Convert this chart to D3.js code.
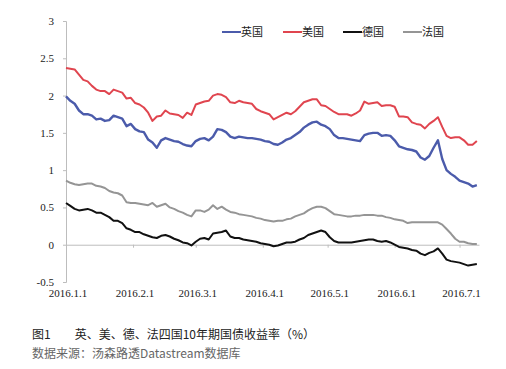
<!DOCTYPE html>
<html>
<head>
<meta charset="utf-8">
<script src="https://cdn.jsdelivr.net/npm/d3@7"></script>
<style>
  html, body { margin: 0; padding: 0; background: #fff; }
  svg { display: block; }
</style>
</head>
<body>
<svg id="chart" width="506" height="369"></svg>
<script>
// ---- data ----
const dates = [
  "2016-01-01","2016-01-03","2016-01-05","2016-01-07","2016-01-09","2016-01-11","2016-01-13","2016-01-15",
  "2016-01-17","2016-01-19","2016-01-21","2016-01-23","2016-01-25","2016-01-27","2016-01-29","2016-01-31",
  "2016-02-02","2016-02-04","2016-02-06","2016-02-08","2016-02-10","2016-02-12","2016-02-14","2016-02-16",
  "2016-02-18","2016-02-20","2016-02-22","2016-02-24","2016-02-26","2016-02-28",
  "2016-03-01","2016-03-03","2016-03-05","2016-03-07","2016-03-09","2016-03-11","2016-03-13","2016-03-15",
  "2016-03-17","2016-03-19","2016-03-21","2016-03-23","2016-03-25","2016-03-27","2016-03-29","2016-03-31",
  "2016-04-02","2016-04-04","2016-04-06","2016-04-08","2016-04-10","2016-04-12","2016-04-14","2016-04-16",
  "2016-04-18","2016-04-20","2016-04-22","2016-04-24","2016-04-26","2016-04-28","2016-04-30",
  "2016-05-02","2016-05-04","2016-05-06","2016-05-08","2016-05-10","2016-05-12","2016-05-14","2016-05-16",
  "2016-05-18","2016-05-20","2016-05-22","2016-05-24","2016-05-26","2016-05-28","2016-05-30",
  "2016-06-01","2016-06-03","2016-06-05","2016-06-07","2016-06-09","2016-06-11","2016-06-13","2016-06-15",
  "2016-06-17","2016-06-19","2016-06-21","2016-06-23","2016-06-25","2016-06-27","2016-06-29",
  "2016-07-01","2016-07-03","2016-07-05","2016-07-07","2016-07-09"
];

const ukValues = [
  1.99,1.93,1.89,1.80,1.75,1.75,1.73,1.68,1.69,1.66,1.67,1.73,1.71,1.69,1.59,1.62,
  1.55,1.52,1.51,1.41,1.37,1.30,1.40,1.43,1.41,1.39,1.38,1.35,1.33,1.32,
  1.39,1.42,1.43,1.40,1.45,1.55,1.54,1.51,1.45,1.43,1.45,1.44,1.43,1.43,1.42,1.41,
  1.39,1.38,1.35,1.34,1.37,1.41,1.43,1.47,1.51,1.57,1.61,1.64,1.65,1.61,1.59,
  1.55,1.47,1.43,1.43,1.42,1.41,1.40,1.39,1.47,1.49,1.50,1.50,1.46,1.47,1.46,
  1.40,1.32,1.30,1.28,1.27,1.25,1.17,1.14,1.19,1.30,1.40,1.15,1.00,0.95,0.91,
  0.86,0.84,0.82,0.78,0.80
];

const usValues = [
  2.37,2.36,2.35,2.28,2.21,2.19,2.13,2.08,2.06,2.06,2.02,2.08,2.06,2.04,1.96,1.97,
  1.90,1.88,1.84,1.77,1.66,1.72,1.73,1.80,1.76,1.75,1.74,1.70,1.77,1.74,
  1.88,1.90,1.92,1.93,2.00,2.02,2.01,1.98,1.91,1.90,1.93,1.91,1.90,1.89,1.82,1.79,
  1.77,1.75,1.68,1.71,1.74,1.77,1.75,1.79,1.85,1.91,1.93,1.95,1.95,1.87,1.86,
  1.82,1.78,1.75,1.75,1.75,1.73,1.76,1.80,1.92,1.89,1.90,1.91,1.86,1.87,1.87,
  1.85,1.72,1.72,1.71,1.64,1.62,1.61,1.56,1.62,1.66,1.71,1.58,1.46,1.43,1.44,
  1.44,1.40,1.34,1.34,1.39
];

const deValues = [
  0.56,0.52,0.48,0.46,0.47,0.48,0.46,0.43,0.43,0.40,0.37,0.32,0.32,0.29,0.22,0.20,
  0.17,0.17,0.14,0.12,0.10,0.09,0.12,0.13,0.11,0.08,0.06,0.03,0.02,-0.01,
  0.04,0.08,0.09,0.07,0.15,0.16,0.17,0.19,0.11,0.09,0.09,0.07,0.06,0.05,0.04,0.02,
  0.01,0.00,-0.02,-0.01,0.01,0.03,0.03,0.04,0.07,0.09,0.13,0.15,0.17,0.19,0.17,
  0.10,0.05,0.03,0.03,0.03,0.03,0.04,0.05,0.06,0.07,0.07,0.05,0.04,0.05,0.03,
  0.00,-0.03,-0.04,-0.05,-0.07,-0.08,-0.12,-0.14,-0.11,-0.09,-0.05,-0.12,-0.20,-0.22,-0.23,
  -0.24,-0.26,-0.28,-0.27,-0.26
];

const frValues = [
  0.86,0.83,0.81,0.80,0.81,0.82,0.82,0.79,0.78,0.76,0.72,0.70,0.69,0.66,0.57,0.56,
  0.56,0.55,0.54,0.53,0.56,0.51,0.53,0.55,0.50,0.48,0.45,0.43,0.40,0.38,
  0.46,0.46,0.44,0.47,0.53,0.48,0.51,0.47,0.44,0.43,0.41,0.40,0.39,0.38,0.36,0.35,
  0.33,0.32,0.31,0.32,0.32,0.34,0.35,0.38,0.40,0.42,0.46,0.49,0.51,0.51,0.49,
  0.45,0.41,0.40,0.39,0.38,0.38,0.39,0.39,0.40,0.40,0.40,0.39,0.39,0.37,0.36,
  0.34,0.33,0.32,0.29,0.30,0.30,0.30,0.30,0.30,0.30,0.30,0.27,0.21,0.15,0.08,
  0.04,0.04,0.02,0.01,0.01
];

const seriesNames = ["英国", "美国", "德国", "法国"];
const seriesColors = ["#4b5bab", "#e0454f", "#111111", "#959595"];
const yTicks = [-0.5, 0, 0.5, 1, 1.5, 2, 2.5, 3];
const xTickDates = ["2016-01-01","2016-02-01","2016-03-01","2016-04-01","2016-05-01","2016-06-01","2016-07-01"];
const caption = "图1　　英、美、德、法四国10年期国债收益率（%）";
const sourceNote = "数据来源：汤森路透Datastream数据库";

// ---- drawing ----
const svg = d3.select("#chart");
const parse = d3.timeParse("%Y-%m-%d");
const dateObjs = dates.map(parse);
const allSeries = [ukValues, usValues, deValues, frValues];

const x = d3.scaleTime()
  .domain([parse("2016-01-01"), parse("2016-07-10")])
  .range([66, 479]);
const y = d3.scaleLinear().domain([-0.5, 3]).range([282, 21]);

const serifFont = "'Liberation Serif', 'DejaVu Serif', serif";
const cjkFont = "'Noto Sans CJK SC', 'Noto Sans', sans-serif";

// y axis
const yAxis = d3.axisLeft(y).tickValues(yTicks).tickSize(3).tickPadding(9)
  .tickFormat(d => d === 0 ? "0" : String(d));
const gy = svg.append("g").attr("transform", "translate(66,0)").call(yAxis);
gy.select(".domain").attr("stroke", "#bdbdbd");
gy.selectAll(".tick line").attr("stroke", "#bdbdbd");
gy.selectAll(".tick text").attr("font-family", serifFont).attr("font-size", 11).attr("fill", "#222");

// zero line with tick marks
const xTickObjs = xTickDates.map(parse);
const gx = svg.append("g").attr("transform", `translate(0,${y(0)})`)
  .call(d3.axisBottom(x).tickValues(xTickObjs).tickSize(3).tickFormat("").tickSizeOuter(0));
gx.select(".domain").attr("stroke", "#bdbdbd");
gx.selectAll(".tick line").attr("stroke", "#bdbdbd");

// x labels (low position)
const fmt = d => `${d.getFullYear()}.${d.getMonth() + 1}.${d.getDate()}`;
const gxl = svg.append("g").attr("transform", "translate(1.5,285)")
  .call(d3.axisBottom(x).tickValues(xTickObjs).tickSize(0).tickPadding(4).tickFormat(fmt));
gxl.select(".domain").remove();
gxl.selectAll(".tick text").attr("font-family", serifFont).attr("font-size", 11).attr("fill", "#222");

// lines
const line = d3.line()
  .x((d, i) => x(dateObjs[i]))
  .y(d => y(d))
  .curve(d3.curveLinear);

// draw order: gray, black, red, blue (blue on top)
[3, 2, 1, 0].forEach(k => {
  svg.append("path")
    .datum(allSeries[k])
    .attr("fill", "none")
    .attr("stroke", seriesColors[k])
    .attr("stroke-width", k === 0 ? 2.4 : 2)
    .attr("stroke-linejoin", "round")
    .attr("d", line);
});

// legend
const legendX = [222, 283, 343, 403];
const lg = svg.append("g");
seriesNames.forEach((name, i) => {
  lg.append("line")
    .attr("x1", legendX[i]).attr("x2", legendX[i] + 19)
    .attr("y1", 32).attr("y2", 32)
    .attr("stroke", seriesColors[i]).attr("stroke-width", 2);
  lg.append("text")
    .attr("x", legendX[i] + 19).attr("y", 36)
    .attr("font-family", cjkFont).attr("font-size", 11).attr("fill", "#222")
    .text(name);
});

// caption
svg.append("text").attr("x", 32).attr("y", 339)
  .attr("font-family", cjkFont).attr("font-size", 12).attr("fill", "#222")
  .text(caption);
svg.append("text").attr("x", 32).attr("y", 358)
  .attr("font-family", cjkFont).attr("font-size", 12).attr("fill", "#666")
  .text(sourceNote);
</script>
</body>
</html>
